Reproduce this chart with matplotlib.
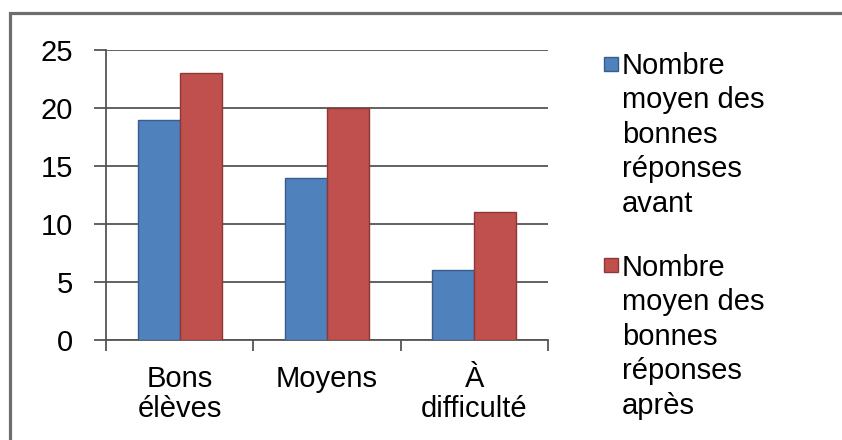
import matplotlib
matplotlib.use("Agg")
import matplotlib.pyplot as plt
from matplotlib.patches import Rectangle
import numpy as np

plt.rcParams['font.family'] = ['Liberation Sans', 'DejaVu Sans']

categories = ["Bons\nélèves", "Moyens", "À\ndifficulté"]
avant = [19, 14, 6]
apres = [23, 20, 11]
series_labels = ["Nombre\nmoyen des\nbonnes\nréponses\navant",
                 "Nombre\nmoyen des\nbonnes\nréponses\naprès"]
series_colors = ['#4F81BD', '#C0504D']
series_edges = ['#385D8A', '#8C3836']
yticks = [0, 5, 10, 15, 20, 25]

W, H = 842, 440
FS = 21
fig = plt.figure(figsize=(W / 100, H / 100), dpi=100)

# outer frame
fig.patches.append(Rectangle((10 / W, -0.05), 1.1, 1 - 13 / H + 0.05,
                             transform=fig.transFigure, fill=False,
                             edgecolor='#6e6e6e', linewidth=2.3, zorder=0))

ax = fig.add_axes([106 / W, 1 - 340 / H, (548 - 106) / W, (340 - 50) / H])
x = np.arange(len(categories))
bw = 0.285
grid_c = '#555555'
ax.bar(x - bw / 2, avant, bw, color=series_colors[0], edgecolor=series_edges[0],
       linewidth=1.0, zorder=3)
ax.bar(x + bw / 2, apres, bw, color=series_colors[1], edgecolor=series_edges[1],
       linewidth=1.0, zorder=3)

ax.set_xlim(-0.5, len(categories) - 0.5)
ax.set_ylim(0, 25)
ax.set_yticks(yticks)
ax.set_yticklabels([str(v) for v in yticks])
ax.yaxis.grid(True, color=grid_c, linewidth=1.3)
ax.set_axisbelow(True)

for s in ['top', 'right']:
    ax.spines[s].set_visible(False)
for s in ['left', 'bottom']:
    ax.spines[s].set_color(grid_c)
    ax.spines[s].set_linewidth(1.3)

ax.set_xticks(np.arange(-0.5, len(categories), 1.0))
ax.set_xticklabels([])
ax.set_xticks(x, minor=True)
ax.set_xticklabels(categories, minor=True, fontsize=FS, linespacing=1.11)
ax.tick_params(axis='x', which='major', length=8, width=1.3, color=grid_c, direction='out')
ax.tick_params(axis='x', which='minor', length=0, pad=18)
ax.tick_params(axis='y', length=9, width=1.3, color=grid_c, direction='out',
               labelsize=FS, pad=15)

# legend (handle aligned with the first line of each label)
leg_top = [52, 254]
leg_sq = [(604, 57), (604, 258)]
for lab, col, ec, yt, (sx, sy) in zip(series_labels, series_colors, series_edges,
                                       leg_top, leg_sq):
    fig.patches.append(Rectangle((sx / W, 1 - (sy + 14) / H), 14 / W, 14 / H,
                                 transform=fig.transFigure, facecolor=col,
                                 edgecolor=ec, linewidth=1.0))
    fig.text(622 / W, 1 - yt / H, lab, fontsize=FS, ha='left', va='top',
             linespacing=1.29)

fig.savefig("out.png", dpi=100)
